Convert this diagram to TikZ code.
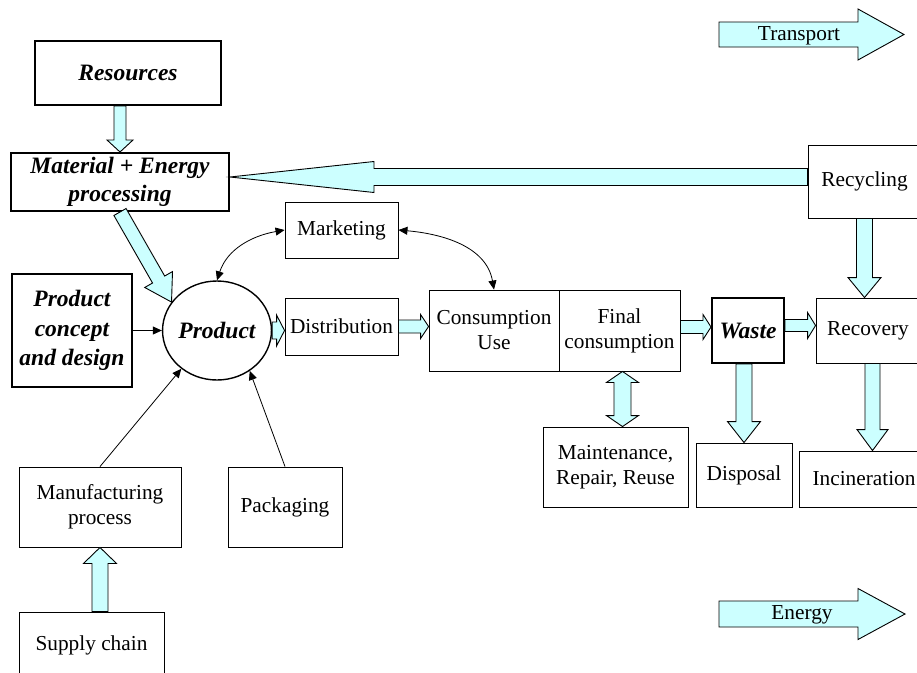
\documentclass[tikz,border=0pt]{standalone}
\usepackage{fontspec}
\setmainfont{Liberation Serif}
\usetikzlibrary{calc,arrows.meta,shapes.geometric}

\definecolor{flowfill}{HTML}{CCFFFF}

\tikzset{
  box/.style={draw, line width=0.9pt, align=center, inner sep=0pt,
    font=\fontsize{21.3}{25}\selectfont},
  keybox/.style={box, line width=2pt,
    font=\bfseries\itshape\fontsize{23.5}{28}\selectfont},
  flow/.style={fill=flowfill, draw=black, line width=0.9pt, line join=miter},
  link/.style={-{Triangle[length=9pt,width=8pt]}, line width=0.8pt},
  biglink/.style={{Triangle[length=9pt,width=8pt]}-{Triangle[length=9pt,width=8pt]}, line width=0.8pt},
}

% wide flow arrow: from, tip, half shaft, half head, head length
\newcommand{\flowarrow}[5]{%
  \path (#1) coordinate (fa-a) (#2) coordinate (fa-b);
  \path ($(fa-b)!#5!(fa-a)$) coordinate (fa-h);
  \filldraw[flow] ($(fa-a)!#3!90:(fa-b)$) -- ($(fa-h)!#3!90:(fa-b)$)
    -- ($(fa-h)!#4!90:(fa-b)$) -- (fa-b) -- ($(fa-h)!#4!-90:(fa-b)$)
    -- ($(fa-h)!#3!-90:(fa-b)$) -- ($(fa-a)!#3!-90:(fa-b)$) -- cycle;
}
% same, with a head at both ends
\newcommand{\flowdarrow}[5]{%
  \path (#1) coordinate (fa-a) (#2) coordinate (fa-b);
  \path ($(fa-b)!#5!(fa-a)$) coordinate (fa-h) ($(fa-a)!#5!(fa-b)$) coordinate (fa-g);
  \filldraw[flow] (fa-a) -- ($(fa-g)!#4!90:(fa-b)$) -- ($(fa-g)!#3!90:(fa-b)$)
    -- ($(fa-h)!#3!90:(fa-b)$) -- ($(fa-h)!#4!90:(fa-b)$) -- (fa-b)
    -- ($(fa-h)!#4!-90:(fa-b)$) -- ($(fa-h)!#3!-90:(fa-b)$)
    -- ($(fa-g)!#3!-90:(fa-b)$) -- ($(fa-g)!#4!-90:(fa-b)$) -- cycle;
}

\begin{document}
\begin{tikzpicture}[x=1pt, y=-1pt]
  \useasboundingbox (0,0) rectangle (917,672);
  \clip (0,0) rectangle (917,672);

  %-----------------------------
  % Left column
  \node[keybox, minimum width=186pt, minimum height=64pt] (res) at (128,73) {Resources};
  \node[keybox, minimum width=218pt, minimum height=58pt] (mat) at (120,182)
       {Material + Energy\\processing};
  \node[keybox, minimum width=120pt, minimum height=113pt,
        font=\bfseries\itshape\fontsize{23.5}{29.5}\selectfont] (concept) at (72,330.5)
       {Product\\concept\\and design};
  \node[box, minimum width=162pt, minimum height=80pt] (manu) at (100,507)
       {Manufacturing\\process};
  \node[box, minimum width=145pt, minimum height=66pt] (supply) at (91.5,645) {Supply chain};
  \node[box, minimum width=114pt, minimum height=80pt] (pack) at (285,507) {Packaging};

  % The product itself
  \node[draw, ellipse, line width=1.4pt, inner sep=0pt, minimum width=88pt, minimum height=99pt,
        font=\bfseries\itshape\fontsize{23.5}{28}\selectfont] (prod) at (217,330.5) {Product};

  %-----------------------------
  % Middle row
  \node[box, minimum width=113pt, minimum height=56pt] (mark) at (341.5,230) {Marketing};
  \node[box, minimum width=113pt, minimum height=57pt] (dist) at (341.5,326.5) {Distribution};
  \node[box, minimum width=130pt, minimum height=81pt] (cons) at (494,330.5) {Consumption\\Use};
  \node[box, minimum width=121pt, minimum height=81pt] (final) at (619.5,330.5)
       {Final\\consumption};
  \node[box, minimum width=145pt, minimum height=80pt] (maint) at (615.5,467)
       {Maintenance,\\Repair, Reuse};

  %-----------------------------
  % End of life (right side)
  \node[keybox, minimum width=72pt, minimum height=65pt] (waste) at (748,330.5) {Waste};
  \node[box, minimum width=104pt, minimum height=65pt] (recov) at (868,330.5) {Recovery};
  \node[box, minimum width=113pt, minimum height=73pt] (recyc) at (864.5,181.5) {Recycling};
  \node[box, minimum width=96pt, minimum height=64pt] (disp) at (744,475) {Disposal};
  \node[box, minimum width=130pt, minimum height=56pt] (incin) at (864,479) {Incineration};

  %-----------------------------
  % Wide flows (some sit a little off the box centres)
  \coordinate (mat-in) at ([yshift=5pt]mat.east);
  \coordinate (fin-out) at ([yshift=3.5pt]final.east);
  \coordinate (waste-out) at ([yshift=5pt]waste.east);
  \coordinate (recov-out) at ([xshift=4.5pt]recov.south);
  \coordinate (fin-down) at ([xshift=3pt]final.south);

  \flowarrow{mat.north |- res.south}{mat.north}{6pt}{13pt}{12pt}
  \flowarrow{mat.south}{prod.148}{7pt}{16pt}{26pt}
  \flowarrow{recyc.west |- mat-in}{mat-in}{8.5pt}{15.5pt}{144pt}
  \flowarrow{prod.east}{dist.west |- prod.east}{8.5pt}{15.5pt}{8pt}
  \flowarrow{dist.east}{cons.west |- dist.east}{6.5pt}{12pt}{8pt}
  \flowarrow{fin-out}{waste.west |- fin-out}{6.5pt}{12.5pt}{8pt}
  \flowarrow{waste-out}{recov.west |- waste-out}{6pt}{13pt}{8pt}
  \flowarrow{recyc.south}{recyc.south |- recov.north}{8pt}{16.5pt}{20pt}
  \flowarrow{disp.north |- waste.south}{disp.north}{8pt}{16.5pt}{21pt}
  \flowarrow{recov-out}{recov-out |- incin.north}{7.5pt}{15.5pt}{21pt}
  \flowarrow{manu.south |- supply.north}{manu.south}{8pt}{16.5pt}{16pt}
  \flowdarrow{fin-down}{fin-down |- maint.north}{8.5pt}{16pt}{11pt}

  %-----------------------------
  % Thin links into and around the product
  \draw[link] (concept.east) -- (prod.west);
  \draw[link] (manu.north) -- (prod.227);
  \draw[link] (pack.north) -- (prod.309);
  \draw[biglink] (prod.north) to[out=72, in=190] (mark.west);
  \draw[biglink] (mark.east) to[out=-5, in=100] (cons.north);

  %-----------------------------
  % Legend arrows
  \coordinate (tr-a) at (719,34.5);
  \coordinate (tr-b) at (904,34.5);
  \flowarrow{tr-a}{tr-b}{12.5pt}{25.5pt}{46pt}
  \node[font=\fontsize{21.3}{25}\selectfont] (transport) at (799,36) {Transport};

  \coordinate (en-a) at (719,614);
  \coordinate (en-b) at (905,614);
  \flowarrow{en-a}{en-b}{13pt}{25.5pt}{47pt}
  \node[font=\fontsize{21.3}{25}\selectfont] (energy) at (802,615) {Energy};
\end{tikzpicture}
\end{document}
